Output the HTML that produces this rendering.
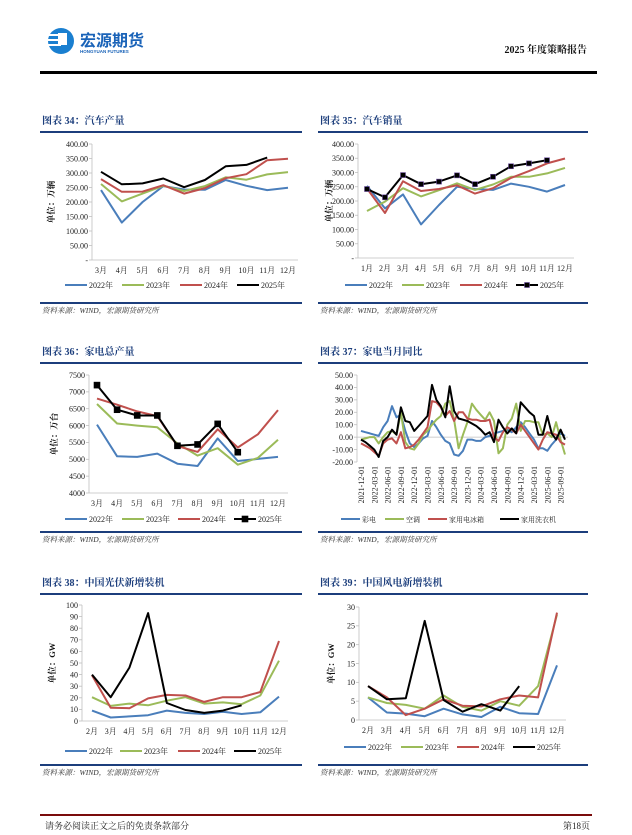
<!DOCTYPE html>
<html><head><meta charset="utf-8">
<style>
html,body{margin:0;padding:0;background:#fff;}
svg{display:block;font-family:"Liberation Serif","Noto Serif CJK SC",serif;}
</style></head>
<body>
<svg id="pg" width="632" height="835" viewBox="0 0 632 835" xmlns="http://www.w3.org/2000/svg">
<g>
  <circle cx="61" cy="41" r="13" fill="#1a7fd0"/>
  <rect x="47" y="34" width="14" height="2" fill="#fff"/><rect x="47" y="39" width="14" height="2" fill="#fff"/><rect x="47" y="44" width="14" height="2" fill="#fff"/>
  <rect x="58" y="33" width="9" height="12" fill="#fff"/>
  <text x="80" y="46" font-size="16" font-weight="bold" fill="#1a63b8" font-family="'Noto Sans CJK SC',sans-serif">宏源期货</text>
  <text x="80" y="53" font-size="4.5" font-weight="bold" fill="#1a63b8" font-family="'Liberation Sans',sans-serif">HONGYUAN FUTURES</text>
  <text x="587" y="53" font-size="10" font-weight="bold" text-anchor="end" fill="#111">2025 年度策略报告</text>
  <rect x="40" y="71" width="557" height="3" fill="#000"/>
</g>
<g>
  <rect x="40" y="814" width="552" height="2" fill="#7a0c0c"/>
  <text x="45" y="829" font-size="9" fill="#222">请务必阅读正文之后的免责条款部分</text>
  <text x="590" y="829" font-size="9" fill="#222" text-anchor="end">第18页</text>
</g>
</svg>
<script>
// ===== Data =====
const m3to12 = ['3月','4月','5月','6月','7月','8月','9月','10月','11月','12月'];
const m1to12 = ['1月','2月','3月','4月','5月','6月','7月','8月','9月','10月','11月','12月'];
const m2to12 = ['2月','3月','4月','5月','6月','7月','8月','9月','10月','11月','12月'];
const yearNames = ['2022年','2023年','2024年','2025年'];

const autoProd2022 = [241,129,200,255,243,242,276,256,241,249];
const autoProd2023 = [262,202,229,256,238,255,285,277,295,303];
const autoProd2024 = [279,235,236,258,229,248,282,296,344,349];
const autoProd2025 = [304,261,264,281,251,276,323,328,353];
const autoProdTicks = [0,50,100,150,200,250,300,350,400];

const autoSales2022 = [253,174,223,118,186,250,242,239,261,250,233,256];
const autoSales2023 = [165,198,245,216,238,262,239,258,285,285,297,316];
const autoSales2024 = [244,158,269,235,242,255,226,245,281,305,332,349];
const autoSales2025 = [242,213,291,259,268,290,259,285,322,332,343];
const autoSalesTicks = [0,50,100,150,200,250,300,350,400];

const appl2022 = [6030,5090,5070,5170,4870,4800,5620,4950,5010,5070];
const appl2023 = [6640,6060,6000,5950,5470,5110,5330,4840,5040,5580];
const appl2024 = [6800,6620,6420,6280,5390,5220,5890,5350,5740,6460];
const appl2025 = [7200,6470,6300,6300,5400,5440,6050,5210];
const applTicks = [4000,4500,5000,5500,6000,6500,7000,7500];

const yoyTV = [5,4,3,2,1,8,13,25,16,18,5,-5,-8,-5,-1,1,13,8,2,-3,-5,-14,-15,-11,-2,-2,-3,-3,0,1,3,4,5,6,4,8,12,8,3,-2,-9,-9,-11,-6,-2,3,1];
const yoyAC = [-2,-1,0,0,-5,0,4,5,2,20,-4,-9,-10,-5,2,5,10,14,17,27,29,14,-9,2,12,27,22,18,14,20,13,-13,-9,10,15,27,5,13,13,12,12,2,3,0,12,-2,-14];
const yoyFridge = [-5,-7,-9,-12,-15,-5,-2,-1,-5,4,-9,-8,-6,-2,3,8,29,28,24,17,21,13,20,20,15,14,14,13,13,14,0,-3,4,8,6,3,10,5,0,-5,-10,-2,4,3,2,-4,-6];
const yoyWasher = [-2,-4,-7,-10,-16,-3,0,6,2,24,13,12,5,9,13,17,42,30,25,16,41,21,15,14,13,11,9,6,2,4,-4,14,8,3,7,3,28,24,20,17,2,2,17,3,-2,6,-2];
const yoyDateLabels = ['2021-12-01','2022-03-01','2022-06-01','2022-09-01','2022-12-01','2023-03-01','2023-06-01','2023-09-01','2023-12-01','2024-03-01','2024-06-01','2024-09-01','2024-12-01','2025-03-01','2025-06-01','2025-09-01'];
const yoyTicks = [-20,-10,0,10,20,30,40,50];
const yoyNames = ['彩电','空调','家用电冰箱','家用洗衣机'];

const pv2022 = [9,3,4,5,9,7,6,8,6,7.5,21];
const pv2023 = [20.5,13,15,13.5,17.5,20.5,15,16,14.5,22,52];
const pv2024 = [39.5,11.5,11,19.5,22.5,22,16.5,20.5,20.5,25,69];
const pv2025 = [40,20.5,46,93,15.5,9.5,7,9,13.5];
const pvTicks = [0,10,20,30,40,50,60,70,80,90,100];

const wind2022 = [6,2,1.7,1,3,1.5,0.8,3.5,1.8,1.6,14.5];
const wind2023 = [6,4.5,4,3,6.5,3.5,2.5,5,3.8,9,28];
const wind2024 = [9,6,1.3,3,5.5,3.8,3.6,5.5,6.5,6,28.5];
const wind2025 = [9,5.5,5.8,26.3,5.3,2.2,4.2,2.5,9];
const windTicks = [0,5,10,15,20,25,30];

const COLORS = ['#4a7ebb','#9bbb59','#c0504d','#000000'];
const NS = 'http://www.w3.org/2000/svg';
const svg = document.getElementById('pg');

function mk(tag, attrs, parent, txt){
  const e = document.createElementNS(NS, tag);
  for (const k in attrs) e.setAttribute(k, attrs[k]);
  if (txt !== undefined) e.textContent = txt;
  (parent||svg).appendChild(e);
  return e;
}

function panel(p){
  const g = mk('g', {});
  
  
  const t = mk('text', {x:p.x0+2, y:p.titleY, 'font-size':10, 'font-weight':'bold', fill:'#1c3e7c'}, g, p.title);
  
  
  mk('rect', {x:p.x0, y:p.titleY+7, width:p.w, height:2, fill:'#1c3e7c'}, g);
  mk('rect', {x:p.x0, y:p.bottomY, width:p.w, height:2, fill:'#1c3e7c'}, g);
  const s = mk('text', {x:p.x0+2, y:p.bottomY+11, 'font-size':7.5, 'font-style':'italic', fill:'#333'}, g, '资料来源：WIND，宏源期货研究所');
  
  
  return g;
}

function chart(c){
  const g = mk('g', {});
  
  
  const ymin = c.ticks[0], ymax = c.ticks[c.ticks.length-1];
  const Y = v => c.yb + (v - ymin) / (ymax - ymin) * (c.yt - c.yb);
  const n = c.nPoints || c.cats.length;
  const X = i => c.x0 + i * (c.x1 - c.x0) / (n - 1);
  const axisY = c.zeroAxis ? Y(0) : c.yb;
  mk('line', {x1:c.ax, y1:c.yt, x2:c.ax, y2:c.yb, stroke:'#bfbfbf', 'stroke-width':0.8}, g);
  c.ticks.forEach(v=>{
    mk('line', {x1:c.ax-3, y1:Y(v), x2:c.ax, y2:Y(v), stroke:'#bfbfbf', 'stroke-width':0.8}, g);
    const t = mk('text', {x:c.ax-4, y:Y(v)+2.8, 'font-size':8, 'text-anchor':'end', fill:'#222'}, g, c.fmt(v));
    
    
  });
  mk('line', {x1:c.ax, y1:axisY, x2:c.axEnd, y2:axisY, stroke:'#bfbfbf', 'stroke-width':0.8}, g);
  if (c.dateLabels){
    c.dateLabels.forEach((d,k)=>{
      const x = X(k*3);
      const t = mk('text', {x:0, y:0, 'font-size':8, 'text-anchor':'end', fill:'#222', transform:`translate(${x+3},${c.yb+4}) rotate(-90)`}, g, d);
      
      
    });
  } else {
    c.cats.forEach((cat,i)=>{
      const t = mk('text', {x:X(i), y:c.yb+13, 'font-size':8, 'text-anchor':'middle', fill:'#222'}, g, cat);
      
      
    });
  }
  if (c.ytitle){
    const yt = mk('text', {x:0, y:0, 'font-size':8.5, 'font-weight':'bold', 'text-anchor':'middle', fill:'#111', transform:`translate(${c.ytx},${(c.yt+c.yb)/2}) rotate(-90)`}, g, c.ytitle);
    
    
  }
  c.series.forEach((s,si)=>{
    const pts = s.map((v,i)=>X(i).toFixed(1)+','+Y(v).toFixed(1)).join(' ');
    const pl = mk('polyline', {points:pts, fill:'none', stroke:c.colors[si], 'stroke-width':c.sw||2, 'stroke-linejoin':'round'}, g);
    
    
    if (c.markers && si === c.series.length-1){
      s.forEach((v,i)=>{
        const m = mk('rect', {x:X(i)-c.markers/2, y:Y(v)-c.markers/2, width:c.markers, height:c.markers, fill:'#000', stroke:c.markerStroke||'#000', 'stroke-width':0.6}, g);
        
        
      });
    }
  });
  const L = c.legLen || 22;
  c.legendX.forEach((lx,i)=>{
    const le = mk('g', {}, g);
    
    
    mk('line', {x1:lx, y1:c.legY, x2:lx+L, y2:c.legY, stroke:c.colors[i], 'stroke-width':2}, le);
    if (c.markers && i === c.series.length-1) mk('rect', {x:lx+L/2-c.markers/2, y:c.legY-c.markers/2, width:c.markers, height:c.markers, fill:'#000', stroke:c.markerStroke||'#000','stroke-width':0.6}, le);
    mk('text', {x:lx+L+2, y:c.legY+3, 'font-size':c.legFont||8, fill:'#222'}, le, c.names[i]);
  });
}

const f2 = v => v===0 ? '-' : v.toFixed(2);
const f0 = v => String(v);

panel({name:'panel-auto-production', x0:40, w:262, titleY:124, bottomY:302, title:'图表 34：汽车产量'});
panel({name:'panel-auto-sales', x0:318, w:270, titleY:124, bottomY:302, title:'图表 35：汽车销量'});
panel({name:'panel-appliance-output', x0:40, w:262, titleY:355, bottomY:531, title:'图表 36：家电总产量'});
panel({name:'panel-appliance-yoy', x0:318, w:270, titleY:355, bottomY:531, title:'图表 37：家电当月同比'});
panel({name:'panel-pv-install', x0:40, w:262, titleY:586, bottomY:764, title:'图表 38：中国光伏新增装机'});
panel({name:'panel-wind-install', x0:318, w:270, titleY:586, bottomY:764, title:'图表 39：中国风电新增装机'});

chart({name:'chart-auto-production', cats:m3to12, series:[autoProd2022,autoProd2023,autoProd2024,autoProd2025], ticks:autoProdTicks, fmt:f2,
  ax:92, axEnd:298, x0:101, x1:288, yt:144, yb:260, ytx:54, ytitle:'单位：万辆', colors:COLORS, names:yearNames, legendX:[65,122,180,237], legY:285});
chart({name:'chart-auto-sales', cats:m1to12, series:[autoSales2022,autoSales2023,autoSales2024,autoSales2025], ticks:autoSalesTicks, fmt:f2,
  ax:358, axEnd:574, x0:367, x1:565, yt:144, yb:258, ytx:332, ytitle:'单位：万辆', colors:COLORS, names:yearNames, legendX:[345,402,460,516], legY:285, markers:5, markerStroke:'#6a4c9c'});
chart({name:'chart-appliance-output', cats:m3to12, series:[appl2022,appl2023,appl2024,appl2025], ticks:applTicks, fmt:f0,
  ax:89, axEnd:288, x0:97, x1:278, yt:375, yb:493, ytx:57, ytitle:'单位：万台', colors:COLORS, names:yearNames, legendX:[65,122,178,234], legY:519, markers:6});
chart({name:'chart-appliance-yoy', cats:yoyTV.map((v,i)=>i), nPoints:yoyTV.length, dateLabels:yoyDateLabels, zeroAxis:true,
  series:[yoyTV,yoyAC,yoyFridge,yoyWasher], ticks:yoyTicks, fmt:v=>v.toFixed(2),
  ax:357, axEnd:568, x0:361, x1:565, yt:375, yb:462, ytx:0, ytitle:'', colors:COLORS, names:yoyNames, legendX:[341,385,428,500], legY:519, legLen:19, legFont:7});
chart({name:'chart-pv-install', cats:m2to12, series:[pv2022,pv2023,pv2024,pv2025], ticks:pvTicks, fmt:f0,
  ax:82, axEnd:288, x0:92, x1:279, yt:605, yb:721, ytx:55, ytitle:'单位：GW', colors:COLORS, names:yearNames, legendX:[65,120,178,234], legY:751});
chart({name:'chart-wind-install', cats:m2to12, series:[wind2022,wind2023,wind2024,wind2025], ticks:windTicks, fmt:f0,
  ax:359, axEnd:566, x0:368, x1:557, yt:607, yb:720, ytx:334, ytitle:'单位：GW', colors:COLORS, names:yearNames, legendX:[344,401,457,513], legY:747});
</script>
</body></html>
